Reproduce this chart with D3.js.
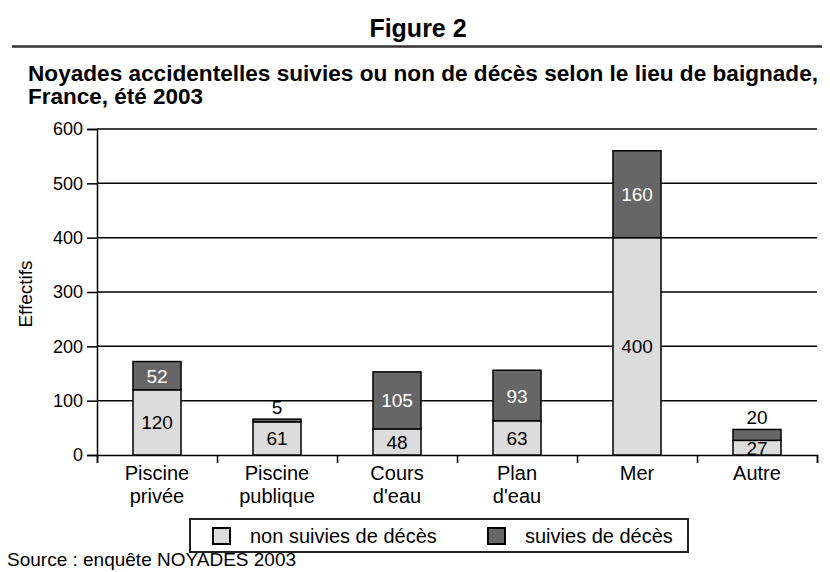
<!DOCTYPE html>
<html>
<head>
<meta charset="utf-8">
<script src="https://cdn.jsdelivr.net/npm/d3@7"></script>
<style>
  body { margin: 0; background: #fff; }
  svg text { font-family: "Liberation Sans", Arial, sans-serif; fill: #000; }
</style>
</head>
<body>
<script>
'use strict';

// categories (two lines each) and values
const categories = ["Piscine privée", "Piscine publique", "Cours d'eau", "Plan d'eau", "Mer", "Autre"];
const catLines = [["Piscine", "privée"], ["Piscine", "publique"], ["Cours", "d'eau"], ["Plan", "d'eau"], ["Mer"], ["Autre"]];
const nonSuivies = [120, 61, 48, 63, 400, 27];
const suivies = [52, 5, 105, 93, 160, 20];
const yTicks = [0, 100, 200, 300, 400, 500, 600];
const seriesNames = ["non suivies de décès", "suivies de décès"];

(function () {
  const W = 830, H = 572;
  const plot = { left: 97, right: 817, top: 129, bottom: 455 };
  const lightCol = "#dcdcdc", darkCol = "#666666";

  let svg = d3.select("body").append("svg")
    .attr("width", W)
    .attr("height", H);

  // header
  svg.append("text")
    .attr("x", 418).attr("y", 37)
    .attr("text-anchor", "middle")
    .style("font-size", "25px").style("font-weight", "bold")
    .text("Figure 2");

  svg.append("line")
    .attr("x1", 12).attr("x2", 822)
    .attr("y1", 46.5).attr("y2", 46.5)
    .attr("stroke", "#333").attr("stroke-width", 2.5);

  svg.append("text")
    .attr("x", 28).attr("y", 81)
    .attr("textLength", 790).attr("lengthAdjust", "spacingAndGlyphs")
    .style("font-size", "22px").style("font-weight", "bold")
    .text("Noyades accidentelles suivies ou non de décès selon le lieu de baignade,");
  svg.append("text")
    .attr("x", 28).attr("y", 104)
    .attr("textLength", 175).attr("lengthAdjust", "spacingAndGlyphs")
    .style("font-size", "22px").style("font-weight", "bold")
    .text("France, été 2003");

  // scales
  let x = d3.scaleBand()
    .domain(categories)
    .range([plot.left, plot.right])
    .paddingInner(0.6)
    .paddingOuter(0.3);

  let y = d3.scaleLinear()
    .domain([0, 600])
    .range([plot.bottom, plot.top]);

  // gridlines
  svg.append("g")
    .selectAll("line")
    .data(yTicks.filter((d) => d > 0))
    .enter()
    .append("line")
    .attr("x1", plot.left).attr("x2", plot.right)
    .attr("y1", (d) => y(d)).attr("y2", (d) => y(d))
    .attr("stroke", "#000").attr("stroke-width", 1.5);

  // y axis
  let yAxis = d3.axisLeft(y).tickValues(yTicks).tickSize(10).tickPadding(4);
  let gy = svg.append("g")
    .attr("transform", "translate(" + plot.left + ",0)")
    .call(yAxis);
  gy.select(".domain").attr("stroke", "#000").attr("stroke-width", 1.5);
  gy.selectAll(".tick line").attr("stroke", "#000").attr("stroke-width", 1.5);
  gy.selectAll(".tick text")
    .style("font-size", "18px")
    .attr("font-family", null);

  svg.append("text")
    .attr("transform", "translate(32, 294)rotate(-90)")
    .attr("text-anchor", "middle")
    .style("font-size", "19px")
    .text("Effectifs");

  // x axis: ticks at category boundaries
  let xb = d3.scaleLinear().domain([0, categories.length]).range([plot.left, plot.right]);
  let xAxis = d3.axisBottom(xb)
    .tickValues(d3.range(0, categories.length + 1))
    .tickSize(8)
    .tickFormat("");
  let gx = svg.append("g")
    .attr("transform", "translate(0," + plot.bottom + ")")
    .call(xAxis);
  gx.select(".domain").attr("stroke", "#000").attr("stroke-width", 1.5);
  gx.selectAll(".tick line").attr("stroke", "#000").attr("stroke-width", 1.5);

  // category labels
  let cl = svg.append("g").selectAll("text")
    .data(categories)
    .enter()
    .append("text")
    .attr("x", (d) => x(d) + x.bandwidth() / 2)
    .attr("y", 480)
    .attr("text-anchor", "middle")
    .style("font-size", "20px");
  cl.each(function (d, i) {
    let t = d3.select(this);
    catLines[i].forEach((line, j) => {
      t.append("tspan")
        .attr("x", x(d) + x.bandwidth() / 2)
        .attr("dy", j === 0 ? 0 : 23)
        .text(line);
    });
  });

  // stacked bars
  let rows = categories.map((c, i) => ({ cat: c, a: nonSuivies[i], b: suivies[i] }));
  let bars = svg.append("g");

  bars.selectAll(".low")
    .data(rows)
    .enter()
    .append("rect")
    .attr("class", "low")
    .attr("x", (d) => x(d.cat))
    .attr("width", x.bandwidth())
    .attr("y", (d) => y(d.a))
    .attr("height", (d) => y(0) - y(d.a))
    .attr("fill", lightCol)
    .attr("stroke", "#000").attr("stroke-width", 1.5);

  // value labels on the light part
  bars.selectAll(".lowLab")
    .data(rows)
    .enter()
    .append("text")
    .attr("x", (d) => x(d.cat) + x.bandwidth() / 2)
    .attr("y", (d) => (y(0) + y(d.a)) / 2 + 7)
    .attr("text-anchor", "middle")
    .style("font-size", "19px")
    .text((d) => d.a);

  bars.selectAll(".high")
    .data(rows)
    .enter()
    .append("rect")
    .attr("class", "high")
    .attr("x", (d) => x(d.cat))
    .attr("width", x.bandwidth())
    .attr("y", (d) => y(d.a + d.b))
    .attr("height", (d) => y(d.a) - y(d.a + d.b))
    .attr("fill", darkCol)
    .attr("stroke", "#000").attr("stroke-width", 1.5);

  let small = 30; // thin segments get their label above the bar
  bars.selectAll(".highLab")
    .data(rows)
    .enter()
    .append("text")
    .attr("x", (d) => x(d.cat) + x.bandwidth() / 2)
    .attr("y", (d) => d.b < small ? y(d.a + d.b) - 5 : (y(d.a) + y(d.a + d.b)) / 2 + 7)
    .attr("text-anchor", "middle")
    .style("font-size", "19px")
    .style("fill", (d) => d.b < small ? "#000" : "#fff")
    .text((d) => d.b);

  // legend
  svg.append("rect")
    .attr("x", 190).attr("y", 519)
    .attr("width", 498).attr("height", 33)
    .attr("fill", "#fff")
    .attr("stroke", "#222").attr("stroke-width", 2);

  let legX = [213, 488];
  let legCol = [lightCol, darkCol];
  seriesNames.forEach((name, i) => {
    svg.append("rect")
      .attr("x", legX[i]).attr("y", 528)
      .attr("width", 17).attr("height", 16)
      .attr("fill", legCol[i])
      .attr("stroke", "#000").attr("stroke-width", 2);
    svg.append("text")
      .attr("x", legX[i] + 37).attr("y", 543)
      .style("font-size", "20px")
      .text(name);
  });

  svg.append("text")
    .attr("x", 7).attr("y", 566)
    .style("font-size", "19px")
    .text("Source : enquête NOYADES 2003");
})();
</script>
</body>
</html>
